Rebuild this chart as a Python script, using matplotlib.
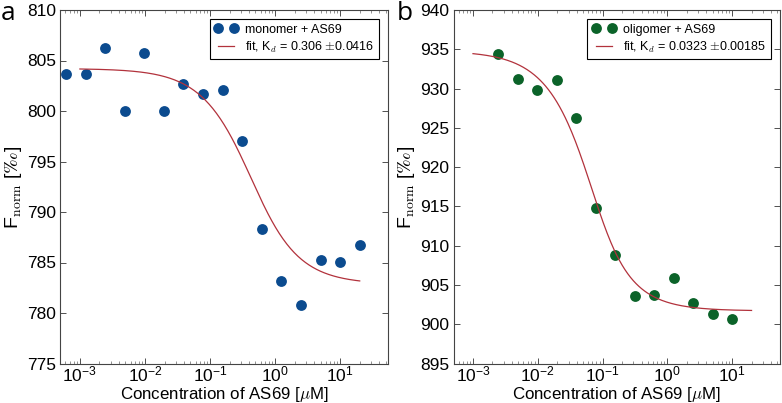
import numpy as np
import matplotlib
matplotlib.use("Agg")
import matplotlib.pyplot as plt
from matplotlib.ticker import LogLocator, MultipleLocator

plt.rcParams['font.family'] = ['Liberation Sans', 'DejaVu Sans']
plt.rcParams['mathtext.fontset'] = 'cm'
plt.rcParams['xtick.direction'] = 'in'
plt.rcParams['ytick.direction'] = 'in'
plt.rcParams['xtick.top'] = True
plt.rcParams['ytick.right'] = True

# ---- data ----
conc_mono = [20 / 2**k for k in range(15, -1, -1)]
fnorm_mono = [803.66, 803.66, 806.24, 800.03, 805.7, 800.03, 802.64, 801.72,
              802.05, 797.06, 788.28, 783.2, 780.76, 785.21, 785.01, 786.77]
conc_olig = [10 / 2**k for k in range(12, -1, -1)]
fnorm_olig = [934.4, 931.26, 929.86, 931.13, 926.2, 914.84, 908.86, 903.64,
              903.68, 905.89, 902.7, 901.35, 900.67]

# fit parameters (Kd model)
kd_mono, kd_mono_err = 0.306, 0.0416
top_mono, bottom_mono, target_mono = 804.2, 782.85, 0.22
kd_olig, kd_olig_err = 0.0323, 0.00185
top_olig, bottom_olig, target_olig = 934.8, 901.7, 0.06
fit_range = (1e-3, 20)


def kd_model(c, kd, top, bottom, ct):
    s = c + ct + kd
    frac = (s - np.sqrt(s**2 - 4 * c * ct)) / (2 * ct)
    return top + (bottom - top) * frac


fig = plt.figure(figsize=(7.82, 4.03), dpi=100)
W, H = 782, 403
ax1 = fig.add_axes([60.3 / W, (H - 363.5) / H, (388.3 - 60.3) / W, (363.5 - 10) / H])
ax2 = fig.add_axes([453.5 / W, (H - 363.5) / H, (780 - 453.5) / W, (363.5 - 10) / H])

blue = '#0b4b8f'
green = '#0b6329'
red = '#b2323c'

cfit = np.logspace(np.log10(fit_range[0]), np.log10(fit_range[1]), 300)

panels = [
    (ax1, conc_mono, fnorm_mono, blue, 'monomer + AS69', kd_mono, kd_mono_err,
     top_mono, bottom_mono, target_mono, (775, 810)),
    (ax2, conc_olig, fnorm_olig, green, 'oligomer + AS69', kd_olig, kd_olig_err,
     top_olig, bottom_olig, target_olig, (895, 940)),
]

for ax, x, y, col, lab, kd, kerr, top, bot, ct, ylim in panels:
    ax.plot(x, y, 'o', color=col, markersize=7.8, markeredgewidth=0, label=lab)
    ax.plot(cfit, kd_model(cfit, kd, top, bot, ct), '-', color=red, lw=0.9,
            label=r'fit, K$_d$ = %s $\pm$%s' % (kd, kerr))
    ax.set_xscale('log')
    ax.set_xlim(5e-4, 55)
    ax.set_ylim(*ylim)
    ax.yaxis.set_major_locator(MultipleLocator(5))
    ax.xaxis.set_major_locator(LogLocator(base=10, numticks=20))
    ax.xaxis.set_minor_locator(LogLocator(base=10, subs=np.arange(2, 10), numticks=20))
    ax.tick_params(which='major', length=4, width=0.6, labelsize=12.5, colors='#333333', labelcolor='black')
    ax.tick_params(axis='x', which='major', pad=1)
    ax.tick_params(axis='y', which='major', pad=3)
    ax.tick_params(which='minor', length=2, width=0.5, colors='#666666')
    for sp in ax.spines.values():
        sp.set_linewidth(0.8)
        sp.set_color('#444444')
    ax.set_xlabel(r'Concentration of AS69 [$\mu$M]', fontsize=12.2, labelpad=0)
    ax.set_ylabel(r'F$_\mathrm{norm}$ [$\perthousand$]', fontsize=14, labelpad=2)
    leg = ax.legend(loc='upper right', numpoints=2, fontsize=9.0, fancybox=False,
                    framealpha=1, edgecolor='black', borderpad=0.35,
                    labelspacing=0.3, handlelength=1.9, handletextpad=0.6,
                    borderaxespad=0.75)
    leg.get_frame().set_linewidth(0.8)

fig.text(8 / W, 1 - 14 / H, 'a', fontsize=19, family='Open Sans', ha='center', va='center')
fig.text(405 / W, 1 - 14 / H, 'b', fontsize=19, family='Open Sans', ha='center', va='center')

fig.savefig('out.png', dpi=100)
